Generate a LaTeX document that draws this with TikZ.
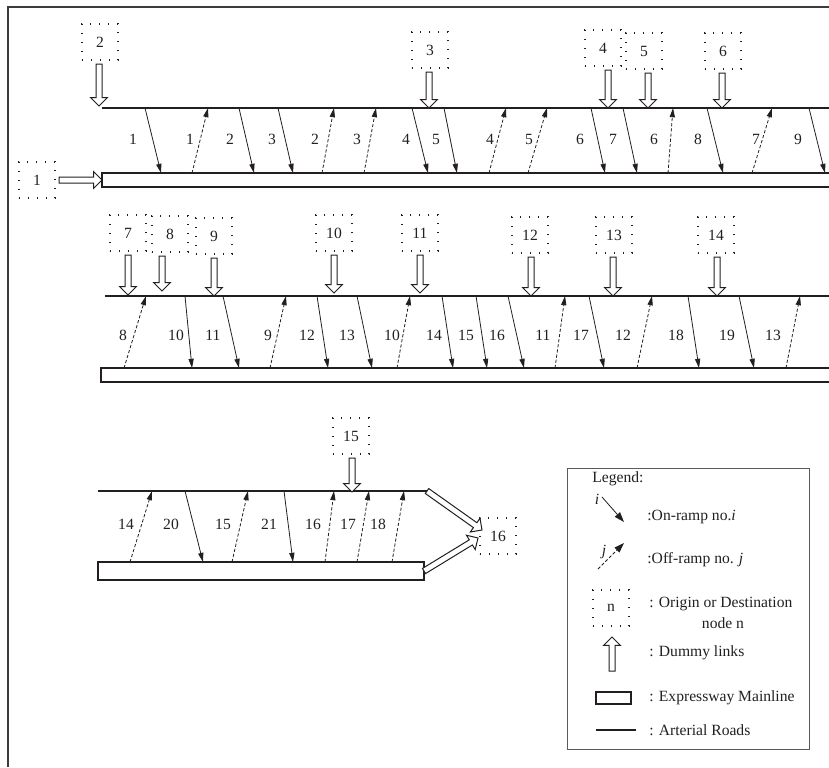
\documentclass[tikz,border=0pt]{standalone}
\usepackage{fontspec}
\setmainfont{Liberation Serif}
\usetikzlibrary{arrows.meta,calc}

\definecolor{netInk}{RGB}{35,31,32}
\definecolor{netFrame}{RGB}{60,60,60}
\definecolor{netQuiet}{RGB}{90,90,90}

\tikzset{
  arterial/.style={draw=netInk,line width=0.6pt},
  mainline/.style={draw=netInk,line width=0.7pt,fill=white,inner sep=0pt,outer sep=0pt},
  onramp/.style={draw=netInk,line width=0.4pt,-{Triangle[length=4.6pt,width=2.6pt]}},
  offramp/.style={onramp,dash pattern=on 1.6pt off 1pt},
  odbox/.style={draw=netInk,line width=0.8pt,dash pattern=on 0.7pt off 3.8pt,
    minimum width=18pt,minimum height=18pt,inner sep=0pt,outer sep=2pt,
    font=\fontsize{7.8}{9}\selectfont,text=netInk},
  lbl/.style={inner sep=0pt,font=\fontsize{7.8}{9}\selectfont,text=netInk},
  dummy/.style={draw=netInk,fill=white,line width=0.5pt,line join=miter},
}

\newcommand{\dummylink}[2]{%
  \draw[dummy] ($(#1)!1.5pt!90:(#2)$)
    -- ($(#2)!4.2pt!(#1)!1.5pt!90:(#2)$)
    -- ($(#2)!4.2pt!(#1)!4.2pt!90:(#2)$)
    -- (#2)
    -- ($(#2)!4.2pt!(#1)!4.2pt!-90:(#2)$)
    -- ($(#2)!4.2pt!(#1)!1.5pt!-90:(#2)$)
    -- ($(#1)!1.5pt!-90:(#2)$) -- cycle;}

\begin{document}
\begin{tikzpicture}[x=0.5pt,y=-0.5pt]
\useasboundingbox (0,0) rectangle (829,767);
\draw[netFrame,line width=0.7pt] (8,767) -- (8,7) -- (829,7);

% first stretch
\coordinate (a1w) at (102,108);
\coordinate (a1e) at (829,108);
\draw[arterial] (a1w) -- (a1e);
\node[mainline,anchor=north west,minimum width=364pt,minimum height=7pt] (m1) at (102,173) {};
\foreach \tx/\bx/\nm/\lx [count=\k] in {145/161/1/133,239/254/2/230,278/293/3/272,412/428/4/406,444/457/5/436,591/605/6/580,623/637/7/613,707/723/8/698,809/825/9/798}{
  \coordinate (r1onT\k) at (\tx,108);
  \coordinate (r1onB\k) at (\bx,173);
  \draw[onramp] (r1onT\k) -- (r1onB\k);
  \node[lbl] (r1onL\k) at (\lx,139) {\nm};
}
\foreach \bx/\tx/\nm/\lx [count=\k] in {192/208/1/190,322/334/2/315,364/376/3/357,489/506/4/490,528/547/5/529,668/673/6/654,752/772/7/756}{
  \coordinate (r1offB\k) at (\bx,173);
  \coordinate (r1offT\k) at (\tx,108);
  \draw[offramp] (r1offB\k) -- (r1offT\k);
  \node[lbl] (r1offL\k) at (\lx,139) {\nm};
}
\node[odbox] (n1) at (37,180) {1};
\node[odbox] (n2) at (100,42) {2};
\node[odbox] (n3) at (430,50) {3};
\node[odbox] (n4) at (603,48) {4};
\node[odbox] (n5) at (644,51) {5};
\node[odbox] (n6) at (723,51) {6};
\dummylink{n1.east}{m1.west}
\foreach \n/\x/\y in {2/99/106,3/429/108,4/608/108,5/648/108,6/722/108}{
  \coordinate (d\n) at (\x,\y);
  \coordinate (u\n) at (n\n.south -| d\n);
  \dummylink{u\n}{d\n}
}

% second stretch
\coordinate (a2w) at (105,296);
\coordinate (a2e) at (829,296);
\draw[arterial] (a2w) -- (a2e);
\node[mainline,anchor=north west,minimum width=364.5pt,minimum height=7pt] (m2) at (101,368) {};
\foreach \tx/\bx/\nm/\lx [count=\k] in {185/192/10/176,223/239/11/213,317/328/12/307,357/372/13/347,442/453/14/434,476/487/15/466,508/524/16/497,589/604/17/581,688/699/18/676,739/754/19/727}{
  \coordinate (r2onT\k) at (\tx,296);
  \coordinate (r2onB\k) at (\bx,368);
  \draw[onramp] (r2onT\k) -- (r2onB\k);
  \node[lbl] (r2onL\k) at (\lx,335) {\nm};
}
\foreach \bx/\tx/\nm/\lx [count=\k] in {124/146/8/123,270/286/9/268,397/410/10/392,555/565/11/543,637/652/12/623,786/800/13/773}{
  \coordinate (r2offB\k) at (\bx,368);
  \coordinate (r2offT\k) at (\tx,296);
  \draw[offramp] (r2offB\k) -- (r2offT\k);
  \node[lbl] (r2offL\k) at (\lx,335) {\nm};
}
\node[odbox] (n7) at (128,233) {7};
\node[odbox] (n8) at (170,234) {8};
\node[odbox] (n9) at (214,236) {9};
\node[odbox] (n10) at (334,233) {10};
\node[odbox] (n11) at (420,233) {11};
\node[odbox] (n12) at (530,235) {12};
\node[odbox] (n13) at (614,235) {13};
\node[odbox] (n14) at (716,235) {14};
\foreach \n/\x/\y in {7/128/295,8/162/291,9/214/296,10/334/293,11/420/293,12/531/296,13/613/296,14/717/296}{
  \coordinate (d\n) at (\x,\y);
  \coordinate (u\n) at (n\n.south -| d\n);
  \dummylink{u\n}{d\n}
}

% third stretch
\coordinate (a3w) at (98,491);
\coordinate (a3e) at (427,491);
\draw[arterial] (a3w) -- (a3e);
\node[mainline,anchor=north west,minimum width=163pt,minimum height=9pt] (m3) at (98,562) {};
\foreach \tx/\bx/\nm/\lx [count=\k] in {185/203/20/171,284/293/21/269}{
  \coordinate (r3onT\k) at (\tx,491);
  \coordinate (r3onB\k) at (\bx,562);
  \draw[onramp] (r3onT\k) -- (r3onB\k);
  \node[lbl] (r3onL\k) at (\lx,524) {\nm};
}
\foreach \bx/\tx/\nm/\lx [count=\k] in {130/152/14/126,232/248/15/223,325/334/16/313,357/369/17/348,392/404/18/378}{
  \coordinate (r3offB\k) at (\bx,562);
  \coordinate (r3offT\k) at (\tx,491);
  \draw[offramp] (r3offB\k) -- (r3offT\k);
  \node[lbl] (r3offL\k) at (\lx,524) {\nm};
}
\node[odbox] (n15) at (351,436) {15};
\node[odbox] (n16) at (498,536) {16};
\coordinate (d15) at (352,492);
\coordinate (u15) at (n15.south -| d15);
\dummylink{u15}{d15}
\coordinate (t16a) at (482,530);
\coordinate (t16b) at (478,538);
\dummylink{a3e}{t16a}
\dummylink{m3.east}{t16b}

% legend
\draw[netQuiet,line width=0.5pt] (567,468) rectangle (809,749);
\node[lbl,anchor=west] (lgTitle) at (592,479) {Legend:};
\coordinate (lgOnS) at (602,497);
\coordinate (lgOnE) at (624,522);
\draw[onramp,-{Triangle[length=5pt,width=3.4pt]}] (lgOnS) -- (lgOnE);
\node[lbl] (lgI) at (597,499) {\textit{i}};
\node[lbl,anchor=west] (lgOnTxt) at (647,517) {:On-ramp no.\textit{i}};
\coordinate (lgOffS) at (598,569);
\coordinate (lgOffE) at (624,543);
\draw[offramp,-{Triangle[length=5pt,width=3.4pt]}] (lgOffS) -- (lgOffE);
\node[lbl] (lgJ) at (604,552) {\textit{j}};
\node[lbl,anchor=west] (lgOffTxt) at (647,560) {:Off-ramp no. \textit{j}};
\node[odbox] (lgN) at (611,608) {n};
\node[lbl,anchor=west] (lgOdTxt) at (649,604) {: Origin or Destination};
\node[lbl] (lgOdTxt2) at (723,623) {node n};
\coordinate (lgUpS) at (612,671);
\coordinate (lgUpE) at (612,637);
\dummylink{lgUpS}{lgUpE}
\node[lbl,anchor=west] (lgDumTxt) at (649,653) {: Dummy links};
\draw[mainline,line width=0.6pt] (596,692) rectangle (631,704);
\node[lbl,anchor=west] (lgExpTxt) at (649,698) {: Expressway Mainline};
\draw[arterial] (596,730) -- (636,730);
\node[lbl,anchor=west] (lgArtTxt) at (649,730) {: Arterial Roads};
\end{tikzpicture}
\end{document}
